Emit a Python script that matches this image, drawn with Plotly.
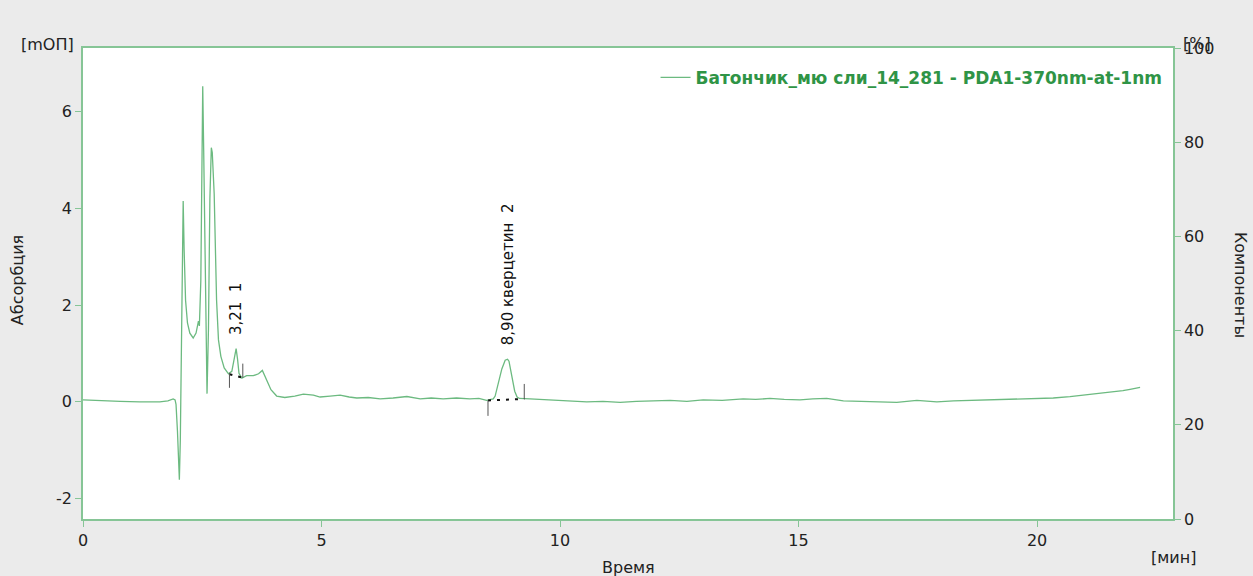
import plotly.graph_objects as go

# Chromatogram: retention time (min) and absorbance (mAU)
time_min = [0.00, 0.36, 0.78, 1.19, 1.61, 1.78, 1.89, 1.93, 1.95, 1.98, 2.02, 2.04, 2.06, 2.08,
            2.10, 2.12, 2.15, 2.19, 2.24, 2.31, 2.37, 2.42, 2.44, 2.47, 2.49, 2.51, 2.53, 2.56,
            2.60, 2.63, 2.66, 2.69, 2.71, 2.75, 2.77, 2.80, 2.84, 2.89, 2.96, 3.05, 3.12, 3.16,
            3.21, 3.24, 3.27, 3.33, 3.43, 3.57, 3.68, 3.76, 3.85, 3.94, 4.06, 4.23, 4.44, 4.62,
            4.83, 4.97, 5.18, 5.39, 5.58, 5.74, 5.98, 6.23, 6.50, 6.79, 7.07, 7.30, 7.55, 7.83,
            8.11, 8.30, 8.46, 8.60, 8.64, 8.71, 8.78, 8.85, 8.90, 8.93, 8.99, 9.05, 9.10, 9.15,
            9.37, 9.60, 9.86, 10.20, 10.56, 10.90, 11.26, 11.60, 11.95, 12.31, 12.66,
            13.00, 13.40, 13.84, 14.10, 14.40, 14.70, 15.03, 15.30, 15.59, 15.94, 16.20, 16.50,
            16.80, 17.06, 17.48, 17.90, 18.25, 18.60, 19.01, 19.30, 19.64, 19.99, 20.34, 20.69,
            20.90, 21.11, 21.33, 21.53, 21.80, 21.95, 22.16]
absorbance = [0.04, 0.02, 0.01, 0.00, 0.00, 0.02, 0.06, 0.04, -0.05, -0.60, -1.61, -0.80, 1.00, 3.20,
              4.15, 3.14, 2.10, 1.63, 1.42, 1.32, 1.42, 1.67, 1.57, 2.50, 5.00, 6.52, 5.20, 2.50,
              0.17, 1.50, 4.20, 5.25, 5.15, 4.30, 3.14, 2.10, 1.28, 0.94, 0.70, 0.58, 0.63, 0.85,
              1.10, 0.88, 0.59, 0.49, 0.54, 0.54, 0.58, 0.65, 0.45, 0.25, 0.12, 0.09, 0.12, 0.16,
              0.14, 0.10, 0.12, 0.14, 0.10, 0.08, 0.09, 0.06, 0.08, 0.11, 0.06, 0.08, 0.06, 0.08,
              0.06, 0.07, 0.03, 0.06, 0.12, 0.38, 0.68, 0.86, 0.88, 0.84, 0.55, 0.22, 0.10, 0.07,
              0.06, 0.05, 0.04, 0.02, 0.00, 0.01, -0.01, 0.01, 0.02, 0.03, 0.01,
              0.04, 0.03, 0.06, 0.05, 0.07, 0.05, 0.04, 0.06, 0.07, 0.02, 0.01, 0.00,
              0.00, -0.01, 0.03, 0.00, 0.02, 0.03, 0.03, 0.05, 0.06, 0.06, 0.08, 0.11,
              0.13, 0.16, 0.17, 0.19, 0.23, 0.26, 0.30]

# Integrated peaks
peak_rt = [3.21, 8.90]
peak_labels = ["3,21  1", "8,90 кверцетин  2"]
peak_label_base = [1.34, 1.12]
peak_start = [3.07, 8.49]
peak_end = [3.35, 9.25]
baseline_start = [0.57, 0.03]
baseline_end = [0.50, 0.06]
start_tick_lo = [0.29, -0.29]
start_tick_hi = [0.60, 0.03]
end_tick_lo = [0.50, 0.06]
end_tick_hi = [0.79, 0.37]

x_ticks = [0, 5, 10, 15, 20]
y_ticks = [-2, 0, 2, 4, 6]
y2_ticks = [0, 20, 40, 60, 80, 100]

trace_name = "Батончик_мю сли_14_281 - PDA1-370nm-at-1nm"

GREEN_AXIS = "#86c596"
GREEN_LINE = "#6cba80"
GREEN_TEXT = "#2f9446"
FONT = "DejaVu Sans"

fig = go.Figure()
fig.add_trace(go.Scatter(x=time_min, y=absorbance, mode="lines", name=trace_name,
                         line=dict(color=GREEN_LINE, width=1.3)))

# Peak baselines and start/end markers
for i in range(len(peak_rt)):
    fig.add_trace(go.Scatter(x=[peak_start[i], peak_end[i]], y=[baseline_start[i], baseline_end[i]],
                             mode="lines", line=dict(color="#111111", width=2, dash="3px,6px"),
                             showlegend=False, hoverinfo="skip"))
    fig.add_trace(go.Scatter(x=[peak_start[i], peak_start[i]], y=[start_tick_lo[i], start_tick_hi[i]],
                             mode="lines", line=dict(color="#555555", width=1),
                             showlegend=False, hoverinfo="skip"))
    fig.add_trace(go.Scatter(x=[peak_end[i], peak_end[i]], y=[end_tick_lo[i], end_tick_hi[i]],
                             mode="lines", line=dict(color="#555555", width=1),
                             showlegend=False, hoverinfo="skip"))
    fig.add_annotation(x=peak_rt[i], y=peak_label_base[i], text=peak_labels[i], textangle=-90,
                       showarrow=False, xanchor="center", yanchor="bottom",
                       font=dict(family=FONT, size=15, color="#111111"))

# Secondary (percent) axis carrier
fig.add_trace(go.Scatter(x=[None], y=[None], yaxis="y2", showlegend=False, hoverinfo="skip"))

axis_common = dict(showgrid=False, zeroline=False, showline=True, linecolor=GREEN_AXIS,
                   linewidth=1.5, ticks="outside", tickcolor=GREEN_AXIS, ticklen=6,
                   tickfont=dict(family=FONT, size=16, color="#222222"))

fig.update_layout(
    width=1253, height=576,
    margin=dict(l=83, r=80, t=48, b=57),
    paper_bgcolor="#ebebeb", plot_bgcolor="#ffffff",
    xaxis=dict(range=[0, 22.85], tickvals=x_ticks, mirror=True, **axis_common),
    yaxis=dict(range=[-2.42, 7.31], tickvals=y_ticks, ticktext=[str(v) for v in y_ticks],
               mirror=True, **axis_common),
    yaxis2=dict(range=[0, 100], tickvals=y2_ticks, overlaying="y", side="right", **axis_common),
    showlegend=True,
    legend=dict(x=0.995, y=0.975, xanchor="right", yanchor="top", bgcolor="rgba(0,0,0,0)",
                font=dict(family=FONT, size=17, color=GREEN_TEXT, weight="bold")),
)

titles = [
    dict(text="Абсорбция", x=-0.0606, y=0.507, textangle=-90),
    dict(text="Компоненты", x=1.0615, y=0.497, textangle=90),
    dict(text="Время", x=0.5, y=-0.104, textangle=0),
    dict(text="[мин]", x=1.0, y=-0.081, textangle=0),
    dict(text="[mОП]", x=-0.033, y=1.008, textangle=0),
    dict(text="[%]", x=1.022, y=1.0085, textangle=0),
]
for t in titles:
    fig.add_annotation(xref="paper", yref="paper", showarrow=False, xanchor="center", yanchor="middle",
                       font=dict(family=FONT, size=16, color="#222222"), **t)

fig.write_html("out.html")
